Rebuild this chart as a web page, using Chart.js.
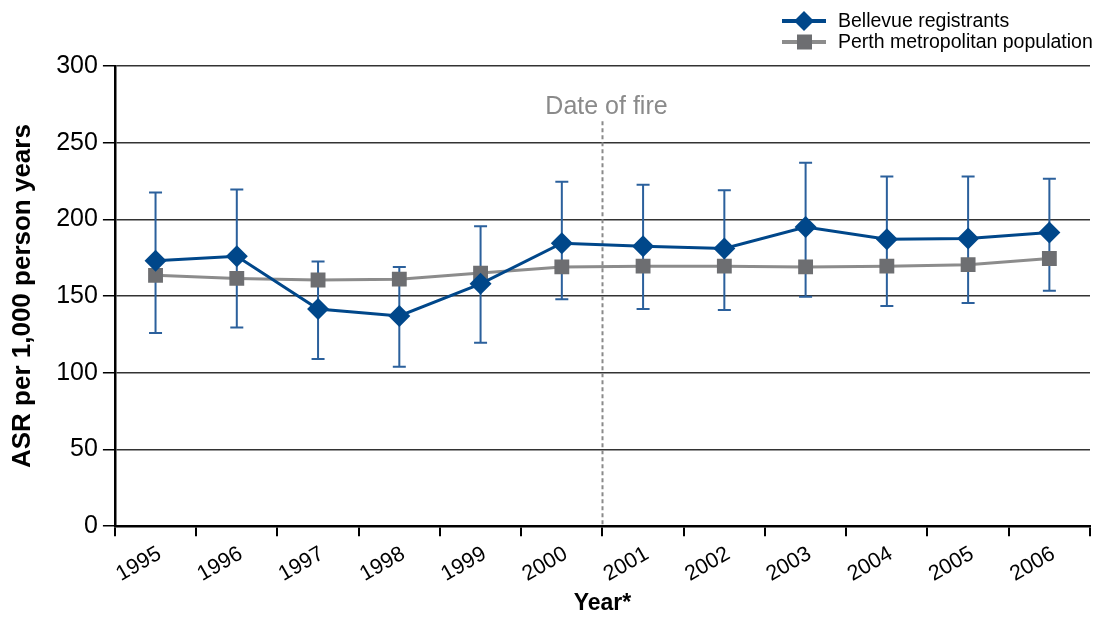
<!DOCTYPE html>
<html>
<head>
<meta charset="utf-8">
<script src="https://cdn.jsdelivr.net/npm/chart.js@4/dist/chart.umd.min.js"></script>
<style>
  html, body { margin: 0; padding: 0; background: #fff; overflow: hidden; }
  #wrap { width: 1101px; height: 617px; position: relative; }
</style>
</head>
<body>
<div id="wrap"><canvas id="chart"></canvas></div>
<script>
const years = ['1995', '1996', '1997', '1998', '1999', '2000', '2001', '2002', '2003', '2004', '2005', '2006'];
const bellevue = [173, 176, 141.5, 137, 158, 184.5, 182.5, 181, 195, 187, 187.5, 191.5];
const bellevueLow = [126, 129.5, 109, 104, 119.5, 148, 141.5, 141, 149.5, 143.5, 145.5, 153.5];
const bellevueHigh = [217.5, 219.5, 172.5, 169, 195.5, 224.5, 222.5, 219, 237, 228, 228, 226.5];
const perth = [163.5, 161.5, 160.5, 161, 165, 169, 169.5, 169.5, 169, 169.5, 170.5, 174.5];
const yTicks = [0, 50, 100, 150, 200, 250, 300];
const fireAfterIndex = 5; // fire marked between 2000 and 2001
const fireLabel = 'Date of fire';

const BLUE = '#00478a';
const BAR_BLUE = '#2b609c';
const GREY_LINE = '#8c8c8c';
const GREY_MARK = '#6d6e71';
const FONT = '"Liberation Sans", Arial, Helvetica, sans-serif';

// error bars for the Bellevue series, drawn under the lines and markers
const errorBars = {
  id: 'errorBars',
  beforeDatasetsDraw(chart) {
    const { ctx, scales: { x, y } } = chart;
    ctx.save();
    ctx.strokeStyle = BAR_BLUE;
    ctx.lineWidth = 2;
    years.forEach((yr, i) => {
      const px = x.getPixelForValue(i);
      const top = y.getPixelForValue(bellevueHigh[i]);
      const bot = y.getPixelForValue(bellevueLow[i]);
      ctx.beginPath();
      ctx.moveTo(px, top);
      ctx.lineTo(px, bot);
      ctx.moveTo(px - 6.5, top);
      ctx.lineTo(px + 6.5, top);
      ctx.moveTo(px - 6.5, bot);
      ctx.lineTo(px + 6.5, bot);
      ctx.stroke();
    });
    ctx.restore();
  }
};

// dashed marker for the fire, sitting on the category boundary
const fireLine = {
  id: 'fireLine',
  beforeDatasetsDraw(chart) {
    const { ctx, scales: { x, y } } = chart;
    const px = Math.round((x.getPixelForValue(fireAfterIndex) + x.getPixelForValue(fireAfterIndex + 1)) / 2) + 0.5;
    ctx.save();
    ctx.strokeStyle = '#8a8a8a';
    ctx.lineWidth = 2;
    ctx.setLineDash([4, 3]);
    ctx.beginPath();
    ctx.moveTo(px, y.getPixelForValue(264));
    ctx.lineTo(px, y.getPixelForValue(0));
    ctx.stroke();
    ctx.setLineDash([]);
    ctx.fillStyle = '#8a8a8a';
    ctx.font = '25px ' + FONT;
    ctx.textAlign = 'center';
    ctx.textBaseline = 'alphabetic';
    ctx.fillText(fireLabel, px + 4, y.getPixelForValue(269));
    ctx.restore();
  }
};

// legend in the top right corner: line with its marker, then the name
const cornerLegend = {
  id: 'cornerLegend',
  afterDraw(chart) {
    const { ctx } = chart;
    const items = [
      { text: 'Bellevue registrants', line: BLUE, mark: BLUE, shape: 'diamond', y: 21 },
      { text: 'Perth metropolitan population', line: GREY_LINE, mark: GREY_MARK, shape: 'square', y: 42 }
    ];
    ctx.save();
    items.forEach(it => {
      ctx.strokeStyle = it.line;
      ctx.lineWidth = 4;
      ctx.beginPath();
      ctx.moveTo(782, it.y);
      ctx.lineTo(826, it.y);
      ctx.stroke();
      ctx.fillStyle = it.mark;
      ctx.beginPath();
      if (it.shape === 'diamond') {
        ctx.moveTo(804, it.y - 10);
        ctx.lineTo(814, it.y);
        ctx.lineTo(804, it.y + 10);
        ctx.lineTo(794, it.y);
        ctx.closePath();
      } else {
        ctx.rect(797, it.y - 7.5, 15, 15);
      }
      ctx.fill();
      ctx.fillStyle = '#000';
      ctx.font = '19.5px ' + FONT;
      ctx.textAlign = 'left';
      ctx.textBaseline = 'middle';
      ctx.fillText(it.text, 838, it.y + 1);
    });
    ctx.restore();
  }
};

new Chart(document.getElementById('chart'), {
  type: 'line',
  data: {
    labels: years,
    datasets: [
      {
        label: 'Bellevue registrants',
        data: bellevue,
        borderColor: BLUE,
        backgroundColor: BLUE,
        borderWidth: 3,
        pointStyle: 'rectRot',
        pointRadius: 11,
        pointBorderWidth: 0,
        tension: 0
      },
      {
        label: 'Perth metropolitan population',
        data: perth,
        borderColor: GREY_LINE,
        backgroundColor: GREY_MARK,
        pointBackgroundColor: GREY_MARK,
        borderWidth: 3,
        pointStyle: 'rect',
        pointRadius: 10.5,
        pointBorderWidth: 0,
        tension: 0
      }
    ]
  },
  options: {
    responsive: true,
    maintainAspectRatio: false,
    animation: false,
    layout: { padding: { top: 66, right: 6, left: 7, bottom: 0 } },
    plugins: {
      legend: { display: false },
      tooltip: { enabled: false }
    },
    scales: {
      x: {
        type: 'category',
        offset: true,
        grid: {
          offset: true,
          drawOnChartArea: false,
          drawTicks: true,
          tickLength: 10,
          color: '#000',
          lineWidth: 2
        },
        border: { color: '#000', width: 2.5 },
        ticks: {
          color: '#000',
          font: { family: FONT, size: 21.5 },
          minRotation: 30,
          maxRotation: 30,
          padding: 5,
          labelOffset: 4,
          autoSkip: false
        },
        title: {
          display: true,
          text: 'Year*',
          color: '#000',
          font: { family: FONT, size: 23, weight: 'bold' },
          padding: { top: -3, bottom: 0 }
        }
      },
      y: {
        min: 0,
        max: 300,
        afterBuildTicks(scale) {
          scale.ticks = yTicks.map(v => ({ value: v }));
        },
        grid: {
          color: '#333',
          lineWidth: 1.5,
          tickLength: 12,
          tickColor: '#000'
        },
        border: { color: '#000', width: 2.5 },
        ticks: {
          color: '#000',
          font: { family: FONT, size: 25 },
          padding: 5
        },
        title: {
          display: true,
          text: 'ASR per 1,000 person years',
          color: '#000',
          font: { family: FONT, size: 26, weight: 'bold' },
          padding: { top: 0, bottom: 13 }
        }
      }
    }
  },
  plugins: [errorBars, fireLine, cornerLegend]
});
</script>
</body>
</html>
